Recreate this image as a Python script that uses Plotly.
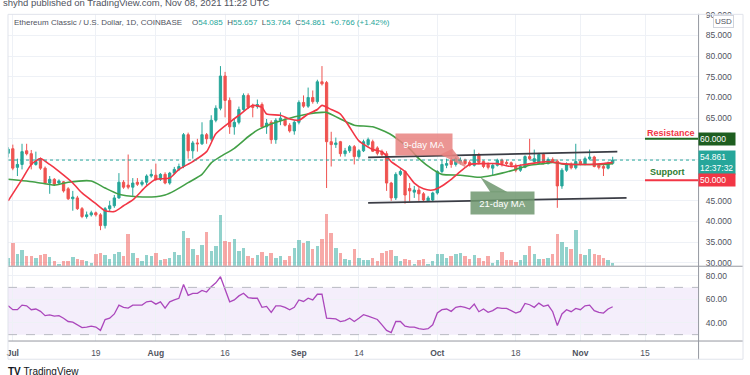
import plotly.graph_objects as go
import pandas as pd

W, H = 750, 375

# ---------------- data ----------------
start_date = "2021-06-30"
n_days = 132
opens = [56.5, 57.6, 53.1, 53.8, 57.1, 56.4, 53.8, 55.0, 52.9, 49.3,
         50.2, 49.3, 49.6, 47.9, 45.5, 45.7, 43.1, 41.2, 41.6, 42.1,
         41.6, 39.0, 43.1, 43.8, 45.7, 49.5, 48.8, 48.3, 49.5, 49.0,
         49.5, 51.0, 51.2, 50.2, 51.4, 49.3, 51.7, 52.6, 53.3, 61.0,
         57.1, 59.0, 58.8, 61.0, 60.0, 64.5, 67.4, 75.2, 69.3, 62.9,
         64.0, 67.1, 70.5, 68.1, 67.8, 68.3, 62.9, 64.0, 59.8, 64.5,
         64.5, 63.3, 61.9, 64.0, 68.8, 67.9, 70.0, 69.0, 73.8, 73.6,
         59.3, 58.6, 59.3, 56.4, 57.1, 58.1, 55.7, 57.1, 58.6, 59.3,
         57.8, 56.9, 56.4, 49.3, 45.7, 51.4, 52.1, 48.0, 47.1, 47.6,
         46.7, 45.0, 45.2, 46.9, 52.1, 53.6, 54.8, 53.8, 54.3, 54.8,
         54.3, 53.6, 56.2, 54.5, 53.8, 52.9, 53.6, 54.8, 54.3, 54.2,
         53.3, 52.4, 53.1, 55.7, 54.5, 54.0, 56.2, 54.0, 55.0, 54.6,
         48.6, 52.4, 53.8, 53.0, 54.5, 53.8, 55.2, 55.6, 53.6, 53.3,
         52.9, 54.085]
highs = [58.0, 58.6, 55.2, 58.8, 58.8, 57.3, 56.9, 55.5, 53.3, 51.0,
         50.5, 50.2, 49.8, 48.3, 47.4, 46.2, 43.5, 42.4, 42.6, 42.4,
         42.0, 43.5, 45.0, 46.4, 51.7, 50.0, 56.2, 50.5, 50.5, 50.0,
         51.4, 52.6, 54.0, 51.7, 51.9, 52.0, 53.2, 54.0, 61.4, 61.5,
         59.5, 60.0, 64.0, 61.4, 65.7, 68.1, 77.6, 76.2, 70.0, 65.0,
         67.8, 71.0, 71.0, 68.5, 69.5, 68.8, 64.8, 64.5, 65.0, 66.4,
         65.2, 63.8, 64.5, 69.3, 70.5, 72.4, 71.7, 74.3, 77.6, 74.0,
         61.7, 60.3, 59.5, 57.8, 58.5, 58.5, 57.5, 59.8, 60.3, 59.8,
         58.2, 57.4, 57.0, 49.6, 51.9, 52.6, 52.4, 49.3, 48.6, 48.3,
         47.1, 46.2, 47.2, 52.4, 55.0, 55.2, 55.5, 55.6, 55.5, 55.2,
         54.8, 57.4, 56.6, 54.8, 54.3, 54.0, 55.2, 55.2, 54.8, 54.5,
         54.0, 53.8, 56.0, 60.0, 57.4, 56.6, 56.6, 55.5, 55.5, 55.0,
         52.9, 54.3, 54.3, 58.8, 55.0, 55.7, 57.4, 55.9, 54.0, 53.8,
         54.5, 55.657]
lows = [55.5, 52.4, 51.0, 52.6, 56.0, 52.6, 53.5, 52.5, 49.0, 46.7,
        48.6, 48.8, 47.0, 45.2, 42.6, 42.8, 40.8, 40.7, 41.2, 41.2,
        37.9, 38.3, 42.5, 43.3, 45.5, 47.9, 47.8, 46.2, 48.6, 48.5,
        48.8, 50.6, 49.8, 49.8, 49.0, 48.9, 51.4, 52.2, 52.9, 55.2,
        55.2, 56.9, 58.5, 58.8, 59.5, 64.0, 66.9, 65.2, 61.2, 61.0,
        63.5, 66.8, 67.2, 65.2, 67.3, 62.5, 61.2, 58.8, 58.8, 63.3,
        63.0, 61.5, 61.0, 63.5, 67.5, 67.5, 68.5, 68.5, 72.9, 48.1,
        53.3, 57.8, 55.7, 55.7, 56.6, 53.8, 55.2, 56.8, 58.2, 56.8,
        56.0, 55.8, 47.4, 45.0, 45.2, 51.0, 44.3, 44.8, 45.7, 45.0,
        44.8, 44.8, 44.8, 46.5, 51.7, 52.9, 53.0, 53.3, 53.8, 53.6,
        53.3, 53.3, 53.8, 52.9, 52.6, 51.0, 53.3, 53.3, 53.6, 53.3,
        51.9, 52.0, 52.9, 54.8, 54.2, 53.8, 53.8, 53.8, 54.2, 43.3,
        47.9, 52.0, 52.6, 52.6, 53.6, 53.6, 54.8, 53.1, 52.6, 51.0,
        52.6, 53.764]
closes = [57.5, 52.9, 53.8, 56.9, 56.4, 53.8, 54.5, 52.9, 49.3, 50.2,
          49.0, 49.8, 47.4, 45.5, 45.9, 43.1, 41.2, 41.6, 42.1, 41.6,
          39.0, 43.1, 43.8, 45.7, 49.5, 48.3, 48.3, 49.3, 49.0, 49.5,
          51.0, 51.4, 50.2, 51.4, 49.3, 51.7, 52.6, 53.3, 61.0, 57.1,
          59.0, 58.8, 61.0, 60.0, 64.5, 67.4, 75.2, 69.3, 62.9, 64.0,
          67.1, 70.5, 67.6, 67.6, 68.3, 62.9, 63.8, 59.8, 64.5, 65.0,
          63.3, 61.9, 64.0, 68.8, 67.9, 70.0, 69.0, 73.8, 73.3, 59.3,
          58.6, 59.0, 56.4, 57.1, 58.1, 55.7, 57.1, 59.3, 59.8, 57.0,
          56.5, 56.2, 49.3, 45.7, 51.4, 52.1, 46.4, 47.4, 47.6, 46.7,
          45.2, 45.7, 46.9, 52.1, 53.8, 54.0, 53.8, 55.2, 54.8, 54.0,
          53.6, 56.2, 54.3, 53.3, 53.1, 53.6, 54.8, 54.0, 54.0, 53.6,
          52.4, 53.3, 55.7, 55.2, 55.2, 56.2, 54.0, 55.0, 54.6, 48.6,
          52.4, 53.8, 53.0, 54.5, 54.0, 55.2, 55.6, 53.3, 53.1, 52.9,
          54.1, 54.861]
volume = [8, 23, 12, 16, 10, 10, 8, 11, 12, 9,
          5, 2, 5, 5, 9, 7, 6, 5, 3, 12,
          13, 11, 7, 12, 14, 10, 32, 13, 8, 5,
          11, 10, 13, 6, 7, 8, 14, 11, 35, 28,
          17, 11, 21, 34, 15, 20, 52, 25, 24, 27,
          15, 18, 10, 8, 11, 14, 10, 13, 8, 10,
          6, 10, 18, 26, 23, 25, 17, 20, 27, 53,
          33, 18, 13, 7, 6, 17, 8, 6, 6, 8,
          5, 13, 15, 16, 10, 5, 7, 6, 2, 6,
          7, 2, 5, 12, 12, 8, 10, 12, 13, 10,
          7, 11, 8, 5, 10, 3, 6, 14, 6, 6,
          4, 6, 11, 20, 12, 7, 7, 8, 12, 32,
          24, 19, 17, 36, 12, 11, 17, 12, 11, 8,
          6, 3]
rsi = [54.4, 51.1, 51.1, 55.0, 54.4, 51.1, 51.7, 49.7, 46.1, 46.7,
       45.6, 46.1, 43.9, 41.1, 40.6, 38.5, 35.9, 36.4, 37.2, 36.4,
       33.6, 42.8, 43.9, 47.5, 55.0, 53.1, 52.5, 55.0, 55.0, 55.0,
       57.8, 58.3, 55.8, 57.8, 52.5, 57.8, 59.4, 60.8, 72.5, 63.3,
       65.0, 65.0, 67.5, 66.1, 70.6, 73.9, 79.0, 68.0, 57.8, 59.4,
       62.8, 65.0, 61.4, 60.8, 60.8, 53.1, 53.9, 48.9, 54.4, 54.4,
       53.1, 51.1, 53.1, 59.4, 58.1, 60.8, 59.4, 64.2, 64.2, 43.9,
       43.9, 43.3, 41.1, 41.9, 43.9, 41.1, 43.9, 46.9, 45.6, 43.9,
       42.8, 38.3, 33.6, 31.7, 41.1, 41.1, 37.2, 36.4, 36.4, 35.0,
       34.4, 35.0, 38.3, 48.3, 51.1, 51.7, 49.7, 53.1, 53.9, 53.1,
       51.7, 55.8, 49.4, 51.7, 48.9, 50.3, 52.8, 52.2, 52.2, 50.3,
       48.3, 49.7, 56.4, 55.3, 53.1, 56.7, 53.9, 55.0, 49.4, 37.8,
       47.5, 51.1, 49.4, 52.2, 51.1, 54.4, 55.0, 50.3, 48.9, 48.3,
       51.7, 53.6]

ma9_dates = ["2021-06-30", "2021-07-03", "2021-07-05", "2021-07-07", "2021-07-09",
             "2021-07-11", "2021-07-14", "2021-07-16", "2021-07-19", "2021-07-21",
             "2021-07-23", "2021-07-25", "2021-07-27", "2021-07-30", "2021-08-01",
             "2021-08-04", "2021-08-06", "2021-08-09", "2021-08-12", "2021-08-14",
             "2021-08-17", "2021-08-19", "2021-08-22", "2021-08-24", "2021-08-25",
             "2021-08-28", "2021-08-30", "2021-09-01", "2021-09-03", "2021-09-05",
             "2021-09-06", "2021-09-08", "2021-09-10", "2021-09-12", "2021-09-14",
             "2021-09-17", "2021-09-19", "2021-09-21", "2021-09-24", "2021-09-26",
             "2021-09-28", "2021-09-30", "2021-10-02", "2021-10-04", "2021-10-06",
             "2021-10-08", "2021-10-11", "2021-10-14", "2021-10-17", "2021-10-20",
             "2021-10-23", "2021-10-25", "2021-10-28", "2021-10-31", "2021-11-03",
             "2021-11-06", "2021-11-08"]
ma9_vals = [45.0, 50.2, 53.8, 55.2, 53.8,
            52.1, 49.3, 46.9, 44.3, 42.6,
            42.4, 43.8, 45.2, 48.6, 50.2,
            50.5, 52.6, 54.5, 56.9, 61.2,
            64.0, 65.7, 68.1, 67.6, 66.0,
            65.7, 64.8, 64.5, 66.0, 67.1,
            68.1, 67.1, 66.0, 62.8, 59.5,
            57.4, 56.9, 54.5, 52.1, 49.3,
            47.9, 47.6, 48.6, 50.2, 52.1,
            53.8, 54.0, 54.0, 53.3, 53.8,
            54.3, 54.5, 54.0, 53.8, 53.8,
            54.0, 54.3]
ma21_dates = ["2021-06-30", "2021-07-06", "2021-07-10", "2021-07-13", "2021-07-18",
              "2021-07-21", "2021-07-24", "2021-07-28", "2021-08-01", "2021-08-03",
              "2021-08-05", "2021-08-08", "2021-08-11", "2021-08-13", "2021-08-15",
              "2021-08-18", "2021-08-21", "2021-08-23", "2021-08-27", "2021-08-30",
              "2021-09-03", "2021-09-06", "2021-09-07", "2021-09-10", "2021-09-13",
              "2021-09-17", "2021-09-21", "2021-09-25", "2021-09-27", "2021-09-30",
              "2021-10-02", "2021-10-06", "2021-10-10", "2021-10-13", "2021-10-15",
              "2021-10-18", "2021-10-21", "2021-10-24", "2021-10-26", "2021-10-29",
              "2021-11-02", "2021-11-06", "2021-11-08"]
ma21_vals = [50.2, 49.5, 48.8, 49.5, 49.8,
             48.1, 46.6, 46.0, 46.0, 46.4,
             47.4, 49.4, 51.4, 54.2, 55.7,
             57.7, 60.5, 62.1, 64.0, 65.0,
             66.0, 66.4, 66.4, 64.8, 63.3,
             62.9, 61.0, 57.6, 55.2, 52.6,
             51.4, 51.2, 50.7, 51.2, 51.7,
             52.6, 53.6, 54.0, 54.3, 53.8,
             53.8, 53.8, 54.0]

# channel trend lines drawn on the chart
upper_line_dates = ["2021-09-16", "2021-11-09"]
upper_line_vals = [55.5, 56.9]
lower_line_dates = ["2021-09-16", "2021-11-11"]
lower_line_vals = [44.5, 45.7]

# callout tails (triangles) and callout anchors
ma9_tail_dates = ["2021-10-01 16:00", "2021-10-04 06:00", "2021-10-07 12:00"]
ma9_tail_vals = [56.2, 57.6, 52.9]
ma21_tail_dates = ["2021-10-10 08:00", "2021-10-12 12:00", "2021-10-16 06:00"]
ma21_tail_vals = [50.7, 47.1, 47.1]
ma9_label = ("2021-09-28 03:00", 58.7, "9-day MA")
ma21_label = ("2021-10-15 03:00", 44.5, "21-day MA")

resistance = 60.0
support = 50.0
last_price = 54.861
level_line_start = "2021-11-15"

tick_dates = ["2021-07-01", "2021-07-19", "2021-08-01", "2021-08-16", "2021-09-01",
              "2021-09-14", "2021-10-01", "2021-10-18", "2021-11-01", "2021-11-15"]
tick_text = ["<b>Jul</b>", "19", "<b>Aug</b>", "16", "<b>Sep</b>",
             "14", "<b>Oct</b>", "18", "<b>Nov</b>", "15"]
price_ticks = [30, 35, 40, 45, 50, 55, 60, 65, 70, 75, 80, 85, 90]
price_tick_text = ["30.000", "35.000", "40.000", "45.000", "", "", "",
                   "65.000", "70.000", "75.000", "80.000", "85.000", "90.000"]
rsi_ticks = [40, 60, 80]

# ---------------- styles ----------------
UP = "#26a69a"
DOWN = "#ef5350"
GRID = "#eef1f6"
AX_TXT = "#50535e"
FONT = "Liberation Sans, Arial, sans-serif"

dates = pd.date_range(start_date, periods=n_days, freq="D")
vol_colors = ["rgba(38,166,154,0.5)" if c >= o else "rgba(239,83,80,0.5)"
              for o, c in zip(opens, closes)]

def px_x(X):
    return X / W

def px_y(Y):
    return 1 - Y / H

x_dom = [px_x(7), px_x(698)]
price_dom = [px_y(266), px_y(10)]
rsi_dom = [px_y(342), px_y(267)]
x_range = ["2021-06-29 23:00", "2021-11-26 12:00"]

fig = go.Figure()

fig.add_trace(go.Candlestick(
    x=dates, open=opens, high=highs, low=lows, close=closes,
    increasing=dict(line=dict(color=UP, width=1), fillcolor=UP),
    decreasing=dict(line=dict(color=DOWN, width=1), fillcolor=DOWN),
    whiskerwidth=0, showlegend=False, hoverinfo="skip",
    xaxis="x", yaxis="y"))

fig.add_trace(go.Scatter(x=ma21_dates, y=ma21_vals, mode="lines",
                         line=dict(color="#43a047", width=1.6, shape="spline", smoothing=0.6),
                         xaxis="x", yaxis="y", showlegend=False, hoverinfo="skip"))
fig.add_trace(go.Scatter(x=ma9_dates, y=ma9_vals, mode="lines",
                         line=dict(color="#f23645", width=1.6, shape="spline", smoothing=0.6),
                         xaxis="x", yaxis="y", showlegend=False, hoverinfo="skip"))

for dts, vals in [(upper_line_dates, upper_line_vals), (lower_line_dates, lower_line_vals)]:
    fig.add_trace(go.Scatter(x=dts, y=vals, mode="lines",
                             line=dict(color="#3b3d45", width=1.8),
                             xaxis="x", yaxis="y", showlegend=False, hoverinfo="skip"))

fig.add_trace(go.Scatter(x=ma9_tail_dates, y=ma9_tail_vals, mode="lines", fill="toself",
                         fillcolor="rgba(232,130,128,0.85)", line=dict(width=0),
                         xaxis="x", yaxis="y", showlegend=False, hoverinfo="skip"))
fig.add_trace(go.Scatter(x=ma21_tail_dates, y=ma21_tail_vals, mode="lines", fill="toself",
                         fillcolor="rgba(110,150,110,0.85)", line=dict(width=0),
                         xaxis="x", yaxis="y", showlegend=False, hoverinfo="skip"))

fig.add_trace(go.Bar(x=dates, y=volume, marker=dict(color=vol_colors, line=dict(width=0)),
                     width=0.75 * 86400000, xaxis="x", yaxis="y3",
                     showlegend=False, hoverinfo="skip"))

fig.add_trace(go.Scatter(x=dates, y=rsi, mode="lines",
                         line=dict(color="#ab47bc", width=1.3),
                         xaxis="x2", yaxis="y2", showlegend=False, hoverinfo="skip"))

shapes = []
# RSI band
shapes.append(dict(type="rect", xref="x2 domain", yref="y2", x0=0, x1=1, y0=30, y1=70,
                   fillcolor="rgba(156,98,220,0.11)", line=dict(width=0), layer="below"))
for lv in (30, 70):
    shapes.append(dict(type="line", xref="x2 domain", yref="y2", x0=0, x1=1, y0=lv, y1=lv,
                       line=dict(color="#b8bac2", width=1, dash="dash")))
# last price dotted line
shapes.append(dict(type="line", xref="x domain", yref="y", x0=0, x1=1,
                   y0=last_price, y1=last_price, line=dict(color=UP, width=1, dash="dot")))
# resistance / support short lines
shapes.append(dict(type="line", xref="x", yref="y", x0=level_line_start, x1=x_range[1],
                   y0=resistance, y1=resistance, line=dict(color="#1e6b23", width=2)))
shapes.append(dict(type="line", xref="x", yref="y", x0=level_line_start, x1=x_range[1],
                   y0=support, y1=support, line=dict(color="#f23645", width=2)))
# pane separators, right axis line, widget border
shapes.append(dict(type="line", xref="paper", yref="paper", x0=px_x(7), x1=px_x(743),
                   y0=px_y(266.5), y1=px_y(266.5), line=dict(color="#9598a1", width=1)))
shapes.append(dict(type="line", xref="paper", yref="paper", x0=px_x(7), x1=px_x(743),
                   y0=px_y(342.5), y1=px_y(342.5), line=dict(color="#9598a1", width=1)))
shapes.append(dict(type="line", xref="paper", yref="paper", x0=px_x(698.5), x1=px_x(698.5),
                   y0=px_y(361), y1=px_y(10), line=dict(color="#9598a1", width=1)))
shapes.append(dict(type="rect", xref="paper", yref="paper", x0=px_x(7), x1=px_x(743),
                   y0=px_y(361), y1=px_y(10.5), line=dict(color="#e0e3eb", width=1)))

annotations = []
def ann(**kw):
    base = dict(showarrow=False, font=dict(family=FONT, size=9, color=AX_TXT))
    base.update(kw)
    annotations.append(base)

# header texts
ann(xref="paper", yref="paper", x=px_x(0), y=px_y(-2), xanchor="left", yanchor="middle",
    text="shyhd published on TradingView.com, Nov 08, 2021 11:22 UTC",
    font=dict(family=FONT, size=9.5, color="#50535e"))
ann(xref="paper", yref="paper", x=px_x(11), y=px_y(18.5), xanchor="left", yanchor="middle",
    text="Ethereum Classic / U.S. Dollar, 1D, COINBASE",
    font=dict(family=FONT, size=8, color="#50535e"))
ohlc_txt = ("O<span style='color:#26a69a'>54.085</span>  H<span style='color:#26a69a'>55.657</span>  "
            "L<span style='color:#26a69a'>53.764</span>  C<span style='color:#26a69a'>54.861</span>  "
            "<span style='color:#26a69a'>+0.766 (+1.42%)</span>")
ann(xref="paper", yref="paper", x=px_x(189), y=px_y(18.5), xanchor="left", yanchor="middle",
    text=ohlc_txt, font=dict(family=FONT, size=8, color="#50535e"))
# USD box
ann(xref="paper", yref="paper", x=px_x(723.5), y=px_y(17.5), xanchor="center", yanchor="middle",
    text="USD", bgcolor="white", bordercolor="#d1d4dc", borderwidth=1, borderpad=1,
    font=dict(family=FONT, size=8, color=AX_TXT))
# footer
ann(xref="paper", yref="paper", x=px_x(5), y=px_y(373), xanchor="left", yanchor="middle",
    text="<b>TV</b> TradingView", font=dict(family=FONT, size=10, color="#131722"))

# price axis labels for the levels
ann(xref="x domain", yref="y", x=1, y=resistance, xanchor="left", yanchor="middle",
    text="60.000", bgcolor="#1e5e20", width=34, align="left", borderpad=1,
    font=dict(family=FONT, size=8.5, color="white"))
ann(xref="x domain", yref="y", x=1, y=last_price - 0.6, xanchor="left", yanchor="middle",
    text="54.861<br>12:37:32", bgcolor=UP, width=34, align="left", borderpad=1,
    font=dict(family=FONT, size=8.5, color="white"))
ann(xref="x domain", yref="y", x=1, y=support, xanchor="left", yanchor="middle",
    text="50.000", bgcolor="#f23645", width=34, align="left", borderpad=1,
    font=dict(family=FONT, size=8.5, color="white"))
# level captions
ann(xref="x domain", yref="y", x=0.999, y=resistance + 1.4, xanchor="right", yanchor="middle",
    text="<b>Resistance</b>", font=dict(family=FONT, size=9, color="#f23645"))
ann(xref="x domain", yref="y", x=0.927, y=support + 1.9, xanchor="left", yanchor="middle",
    text="<b>Support</b>", font=dict(family=FONT, size=9, color="#2e7d32"))
# MA callouts
ann(xref="x", yref="y", x=ma9_label[0], y=ma9_label[1], text=ma9_label[2],
    bgcolor="rgba(232,130,128,0.85)", borderpad=3, width=50, height=15,
    font=dict(family=FONT, size=9.5, color="white"))
ann(xref="x", yref="y", x=ma21_label[0], y=ma21_label[1], text=ma21_label[2],
    bgcolor="rgba(110,150,110,0.85)", borderpad=3, width=57, height=16,
    font=dict(family=FONT, size=9.5, color="white"))

fig.update_layout(
    width=W, height=H, margin=dict(l=0, r=0, t=0, b=0),
    paper_bgcolor="white", plot_bgcolor="white",
    showlegend=False, font=dict(family=FONT, size=9, color=AX_TXT),
    shapes=shapes, annotations=annotations, bargap=0,
    xaxis=dict(domain=x_dom, range=x_range, type="date", showticklabels=False,
               tickvals=tick_dates, showgrid=True, gridcolor=GRID, zeroline=False,
               rangeslider=dict(visible=False), fixedrange=True, showline=False),
    yaxis=dict(domain=price_dom, range=[29.29, 90.24], side="right", tickvals=price_ticks,
               ticktext=price_tick_text, showgrid=True, gridcolor=GRID, zeroline=False,
               ticks="outside", ticklen=5, tickcolor="rgba(0,0,0,0)",
               tickfont=dict(family=FONT, size=8.5, color=AX_TXT), anchor="x"),
    yaxis3=dict(overlaying="y", range=[0, 256], visible=False, anchor="x"),
    xaxis2=dict(domain=x_dom, range=x_range, type="date", anchor="y2",
                tickvals=tick_dates, ticktext=tick_text, showgrid=True, gridcolor=GRID,
                zeroline=False, ticks="outside", ticklen=4, tickcolor="rgba(0,0,0,0)",
                tickfont=dict(family=FONT, size=8.5, color=AX_TXT), showline=False),
    yaxis2=dict(domain=rsi_dom, range=[25, 87.5], side="right", anchor="x2",
                tickvals=rsi_ticks, tickformat=".2f", showgrid=True, gridcolor=GRID,
                zeroline=False, ticks="outside", ticklen=5, tickcolor="rgba(0,0,0,0)",
                tickfont=dict(family=FONT, size=8.5, color=AX_TXT)),
)

fig.write_html("out.html", config={"displayModeBar": False, "staticPlot": True},
               post_script="document.body.style.margin='0';document.body.style.overflow='hidden';")
